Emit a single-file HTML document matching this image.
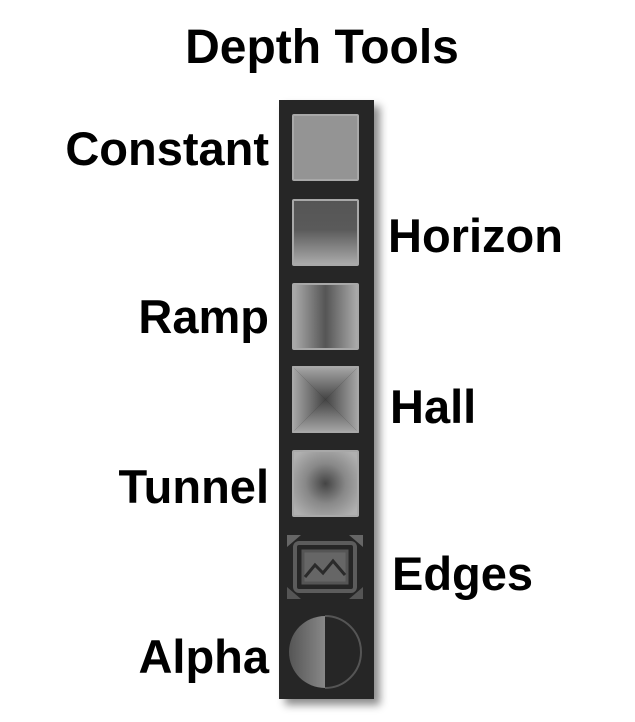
<!DOCTYPE html>
<html><head><style>
body{margin:0;width:635px;height:722px;background:#fff;position:relative;overflow:hidden;font-family:"Liberation Sans",Arial,sans-serif;font-weight:bold;color:#000}
.t{position:absolute;font-size:47px;line-height:1;white-space:nowrap}
.r{text-align:right;width:269px;left:0}
.panel{position:absolute;left:279px;top:100px;width:95px;height:599px;background:#262626;box-shadow:6px 6px 8px rgba(0,0,0,.45)}
.tile{position:absolute;left:292px;width:67px;height:67px;box-sizing:border-box;border:2px solid #a8a8a8;border-radius:2px}
</style></head><body>
<div class="t" style="left:0;width:644px;text-align:center;top:24px;font-size:48px">Depth Tools</div>
<div class="panel"></div>
<div class="tile" style="top:114px;background:#949494"></div>
<div class="tile" style="top:199px;background:linear-gradient(#555 0%,#5a5a5a 45%,#aaa 100%)"></div>
<div class="tile" style="top:283px;background:linear-gradient(90deg,#aaa,#555 50%,#aaa)"></div>
<svg style="position:absolute;left:292px;top:366px" width="67" height="67" viewBox="0 0 67 67">
<defs>
<linearGradient id="a" x1="0" y1="0" x2="0" y2="1"><stop offset="0" stop-color="#aaa"/><stop offset="1" stop-color="#444"/></linearGradient>
<linearGradient id="b" x1="0" y1="1" x2="0" y2="0"><stop offset="0" stop-color="#aaa"/><stop offset="1" stop-color="#444"/></linearGradient>
<linearGradient id="c" x1="0" y1="0" x2="1" y2="0"><stop offset="0" stop-color="#aaa"/><stop offset="1" stop-color="#444"/></linearGradient>
<linearGradient id="d" x1="1" y1="0" x2="0" y2="0"><stop offset="0" stop-color="#aaa"/><stop offset="1" stop-color="#444"/></linearGradient>
</defs>
<polygon points="0,0 67,0 33.5,33.5" fill="url(#a)"/>
<polygon points="0,67 67,67 33.5,33.5" fill="url(#b)"/>
<polygon points="0,0 0,67 33.5,33.5" fill="url(#c)"/>
<polygon points="67,0 67,67 33.5,33.5" fill="url(#d)"/>
<rect x="1" y="1" width="65" height="65" rx="2" fill="none" stroke="#a8a8a8" stroke-width="2"/>
</svg>
<div class="tile" style="top:450px;background:radial-gradient(#444 0%,#888 45%,#b0b0b0 90%)"></div>
<svg style="position:absolute;left:287px;top:535px" width="76" height="64" viewBox="0 0 76 64">
<polygon points="0,0 14,0 0,12" fill="#666"/><polygon points="76,0 62,0 76,12" fill="#666"/>
<polygon points="0,64 14,64 0,52" fill="#555"/><polygon points="76,64 62,64 76,52" fill="#555"/>
<rect x="8" y="8" width="60" height="48" rx="4" fill="none" stroke="#5c5c5c" stroke-width="4"/>
<rect x="16" y="16" width="44" height="32" fill="#666" stroke="#555" stroke-width="3"/>
<polyline points="18,42 28,30 36,38 46,26 58,40" fill="none" stroke="#2a2a2a" stroke-width="3"/>
</svg>
<svg style="position:absolute;left:287px;top:614px" width="76" height="76" viewBox="0 0 76 76">
<defs><linearGradient id="g" x1="0" x2="1"><stop offset="0" stop-color="#555"/><stop offset="1" stop-color="#888"/></linearGradient></defs>
<path d="M38 2 A36 36 0 0 0 38 74 Z" fill="url(#g)"/>
<path d="M38 2 A36 36 0 0 1 38 74" fill="none" stroke="#555" stroke-width="2"/>
</svg>
<div class="t r" style="top:125px">Constant</div>
<div class="t" style="left:388px;top:212px">Horizon</div>
<div class="t r" style="top:293px">Ramp</div>
<div class="t" style="left:390px;top:383px">Hall</div>
<div class="t r" style="top:463px">Tunnel</div>
<div class="t" style="left:392px;top:550px">Edges</div>
<div class="t r" style="top:633px">Alpha</div>
</body></html>
